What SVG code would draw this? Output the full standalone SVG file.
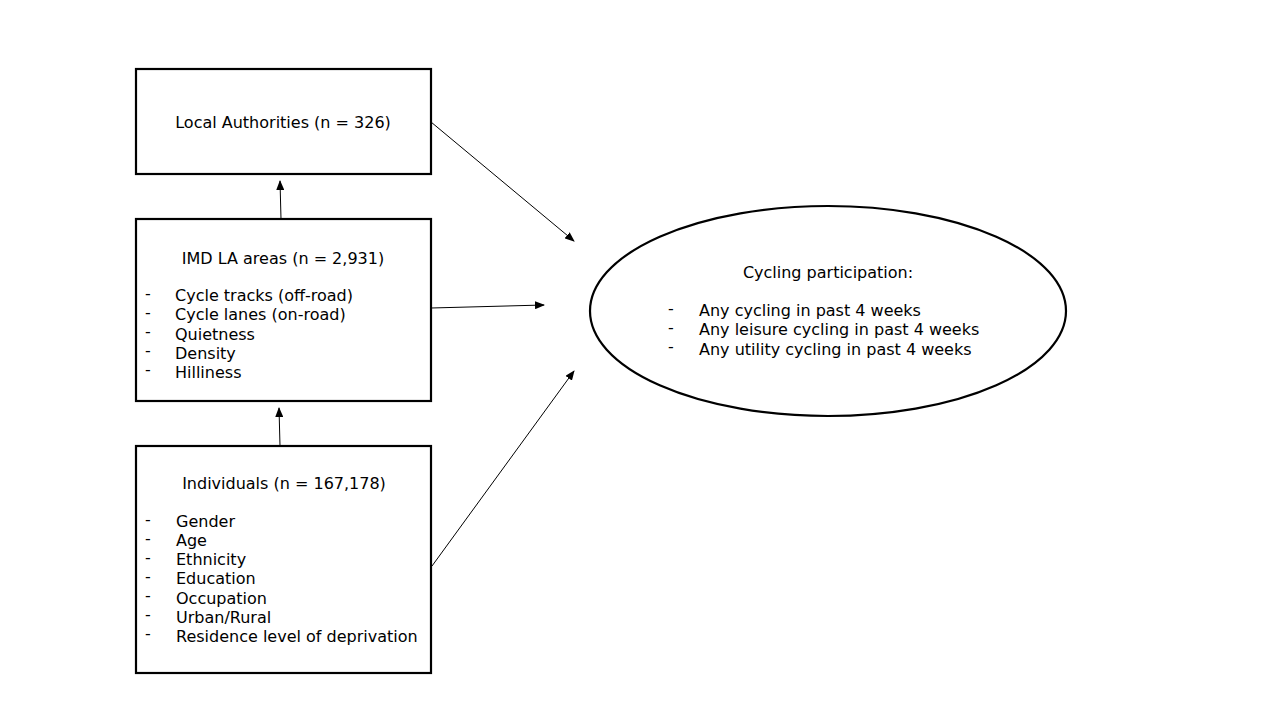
<svg xmlns="http://www.w3.org/2000/svg" width="1280" height="720" viewBox="0 0 1280 720">
<style>
.box{fill:#fff;stroke:#000;stroke-width:2.2}
.t{font-family:"DejaVu Sans",sans-serif;font-size:16px;fill:#000}
.c{text-anchor:middle}
.ln{stroke:#000;stroke-width:1;fill:none;marker-end:url(#ah)}
</style>
<defs>
<marker id="ah" markerWidth="10" markerHeight="8" refX="9" refY="4" orient="auto" markerUnits="userSpaceOnUse">
<path d="M0,0 L10,4 L0,8 z" fill="#000"/>
</marker>
</defs>
<rect width="1280" height="720" fill="#fff"/>
<g id="connectors">
<line class="ln" x1="431" y1="122" x2="574" y2="241"/>
<line class="ln" x1="431" y1="308" x2="544" y2="305"/>
<line class="ln" x1="432" y1="566" x2="574" y2="371"/>
<line class="ln" x1="281" y1="219" x2="280" y2="181"/>
<line class="ln" x1="280" y1="446" x2="279" y2="408"/>
</g>
<g id="local-authorities">
<rect class="box" x="136" y="69" width="295" height="105"/>
<text class="t c" x="283" y="128">Local Authorities (n = 326)</text>
</g>
<g id="imd-la-areas">
<rect class="box" x="136" y="219" width="295" height="182"/>
<text class="t c" x="283" y="264">IMD LA areas (n = 2,931)</text>
<g class="t">
<text x="145" y="299">-</text><text x="175" y="301">Cycle tracks (off-road)</text>
<text x="145" y="318">-</text><text x="175" y="320">Cycle lanes (on-road)</text>
<text x="145" y="337">-</text><text x="175" y="340">Quietness</text>
<text x="145" y="356">-</text><text x="175" y="359">Density</text>
<text x="145" y="375">-</text><text x="175" y="378">Hilliness</text>
</g>
</g>
<g id="individuals">
<rect class="box" x="136" y="446" width="295" height="227"/>
<text class="t c" x="284" y="489">Individuals (n = 167,178)</text>
<g class="t">
<text x="145" y="525">-</text><text x="176" y="527">Gender</text>
<text x="145" y="544">-</text><text x="176" y="546">Age</text>
<text x="145" y="563">-</text><text x="176" y="565">Ethnicity</text>
<text x="145" y="582">-</text><text x="176" y="584">Education</text>
<text x="145" y="601">-</text><text x="176" y="604">Occupation</text>
<text x="145" y="620">-</text><text x="176" y="623">Urban/Rural</text>
<text x="145" y="639">-</text><text x="176" y="642">Residence level of deprivation</text>
</g>
</g>
<g id="cycling-participation">
<ellipse cx="828" cy="311" rx="238" ry="105" fill="#fff" stroke="#000" stroke-width="2.2"/>
<text class="t c" x="828" y="278">Cycling participation:</text>
<g class="t">
<text x="668" y="314">-</text><text x="699" y="316">Any cycling in past 4 weeks</text>
<text x="668" y="333">-</text><text x="699" y="335">Any leisure cycling in past 4 weeks</text>
<text x="668" y="352">-</text><text x="699" y="355">Any utility cycling in past 4 weeks</text>
</g>
</g>
</svg>
